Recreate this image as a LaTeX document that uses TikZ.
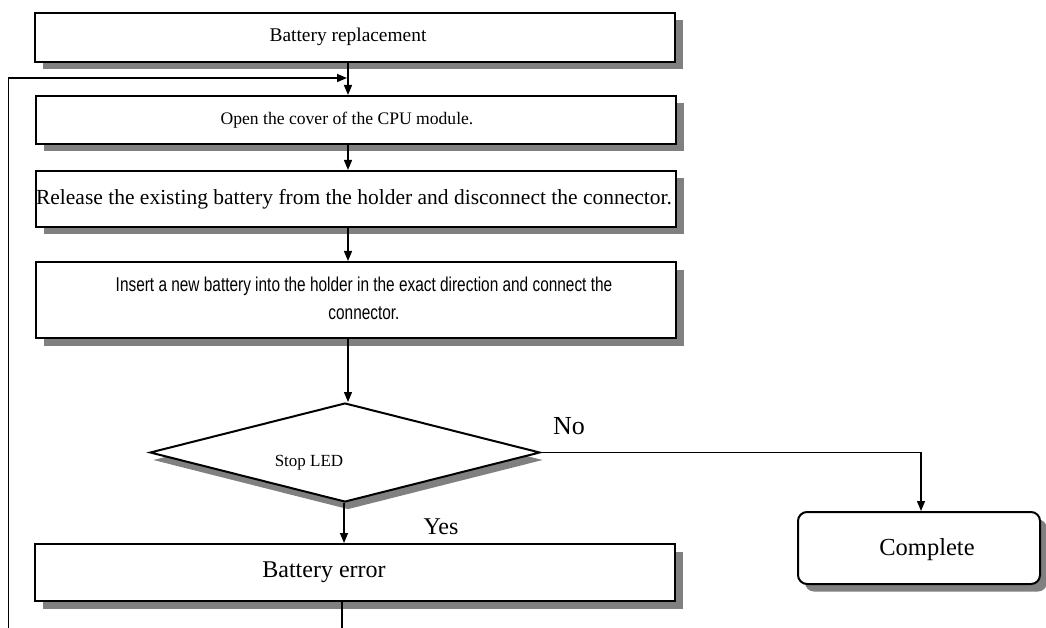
\documentclass[tikz,border=0pt]{standalone}
\usepackage{fontspec}
\setmainfont{Liberation Serif}
\newfontfamily\narrowfont[FakeStretch=0.77]{Liberation Sans}
\usetikzlibrary{shapes.geometric,shadows,arrows.meta}
\definecolor{shgray}{RGB}{128,128,128}
\begin{document}
\begin{tikzpicture}[x=1pt,y=-1pt,
  boxshadow/.style={drop shadow={shadow xshift=8pt,shadow yshift=-7.5pt,fill=shgray,opacity=1}},
  stepbox/.style={draw=black,line width=2pt,fill=white,inner sep=0pt,minimum width=640pt,boxshadow},
  txt/.style={inner sep=0pt},
  conn/.style={line width=1.3pt},
  arr/.style={conn,-{Triangle[length=10pt,width=8pt]}},
  lbl/.style={inner sep=0pt}
]
\useasboundingbox (0,0) rectangle (1046,628);
\node[stepbox,minimum height=49pt] (b1) at (355,37.5) {};
\node[txt,font=\fontsize{19.4}{21}\selectfont] (t1) at (348,37) {Battery replacement};
\node[stepbox,minimum height=48pt] (b2) at (355.5,120) {};
\node[txt,font=\fontsize{17.6}{20}\selectfont] (t2) at (347,120) {Open the cover of the CPU module.};
\node[stepbox,minimum height=56pt] (b3) at (355.5,199) {};
\node[txt,font=\fontsize{21.5}{23}\selectfont] (t3) at (354,199) {Release the existing battery from the holder and disconnect the connector.};
\node[stepbox,minimum height=76pt] (b4) at (355.5,300) {};
\node[txt,align=center,font=\narrowfont\fontsize{20}{28}\selectfont] (t4) at (364,298) {Insert a new battery into the holder in the exact direction and connect the\\connector.};
\node[diamond,draw=black,line width=2pt,fill=white,inner sep=0pt,minimum width=390pt,minimum height=99pt,aspect=3.94,
  drop shadow={shadow xshift=3pt,shadow yshift=-7.5pt,fill=shgray,opacity=1}] (d) at (345,452.5) {};
\node[txt,font=\fontsize{17}{19}\selectfont] (td) at (309,463) {Stop LED};
\node[stepbox,minimum height=57pt] (b5) at (355,572.5) {};
\node[txt,font=\fontsize{24}{26}\selectfont] (t5) at (324,572) {Battery error};
\node[draw=black,line width=2pt,fill=white,rounded corners=9pt,inner sep=0pt,minimum width=242pt,minimum height=72pt,
  drop shadow={shadow xshift=7pt,shadow yshift=-7.5pt,fill=shgray,opacity=1}] (c) at (919,548) {};
\node[txt,font=\fontsize{24.5}{26}\selectfont] (tc) at (927,550) {Complete};
\node[lbl,font=\fontsize{26}{28}\selectfont] (no) at (569,426) {No};
\node[lbl,font=\fontsize{24}{26}\selectfont] (yes) at (441,527) {Yes};
\coordinate (ax) at (348,0);
\coordinate (dx) at (344,0);
\coordinate (cx) at (921,0);
\coordinate (loopb) at (8.5,628);
\coordinate (loopt) at (347,78);
\coordinate (eb) at (342,628);
\draw[arr] (b1.south -| ax) -- (b2.north -| ax);
\draw[arr] (b2.south -| ax) -- (b3.north -| ax);
\draw[arr] (b3.south -| ax) -- (b4.north -| ax);
\draw[arr] (b4.south -| ax) -- (d.north -| ax);
\draw[arr] (d.south -| dx) -- (b5.north -| dx);
\draw[arr] (d.east) -| (c.north -| cx);
\draw[arr] (loopb) |- (loopt);
\draw[conn] (b5.south -| eb) -- (eb);
\end{tikzpicture}
\end{document}
